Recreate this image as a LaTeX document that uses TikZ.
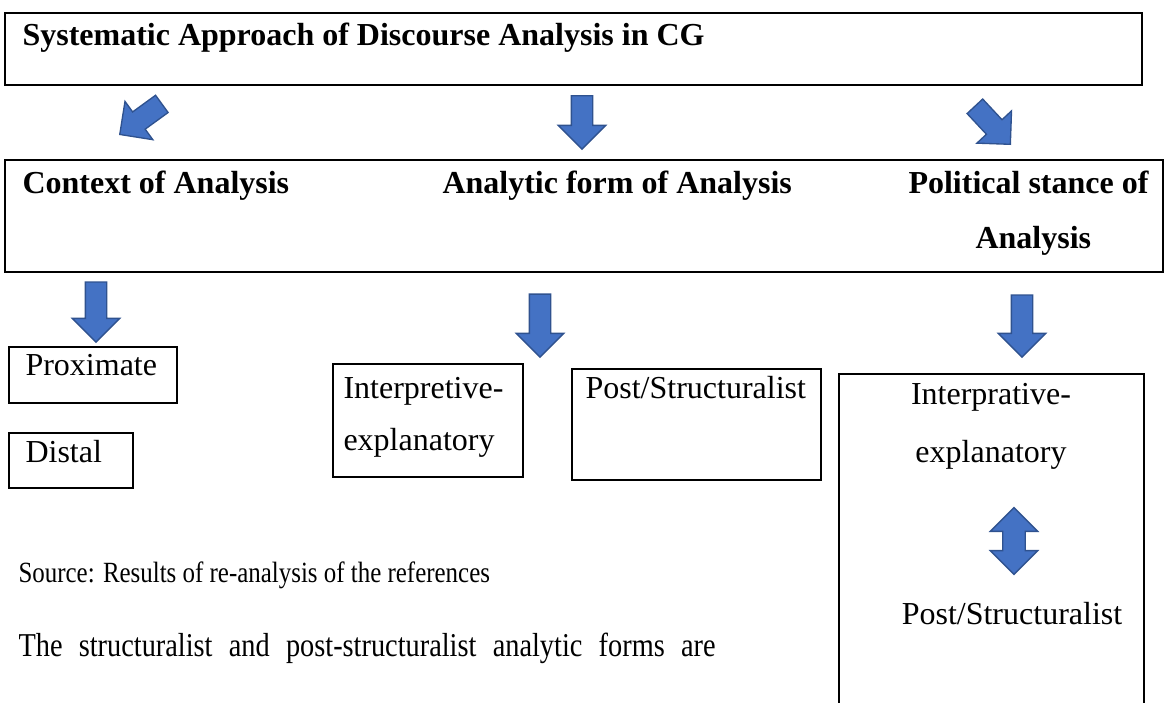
\documentclass[tikz,border=0pt]{standalone}
\usepackage{fontspec}
\setmainfont{Liberation Serif}
\newfontfamily\condfont[FakeStretch=0.85]{Liberation Serif}
\usetikzlibrary{positioning, fit, shapes.arrows}
\definecolor{arrowfill}{HTML}{4472C4}
\definecolor{arrowline}{HTML}{2F528F}

\begin{document}
\begin{tikzpicture}[
  x=0.375pt, y=-0.375pt,
  box/.style={draw, line width=0.75pt, inner sep=0pt},
  bigbox/.style={box, line width=1pt},
  txt/.style={inner sep=0pt, anchor=base west, font=\fontsize{12}{14}\selectfont},
  headtxt/.style={txt, font=\fontsize{12}{14}\selectfont\bfseries},
  midtxt/.style={txt, anchor=base},
  blockarrow/.style={single arrow, draw=arrowline, fill=arrowfill, line width=0.5pt,
    inner xsep=0pt, inner ysep=3.75pt, single arrow head extend=4.875pt,
    single arrow head indent=0pt, minimum height=22pt, anchor=tip},
  twoarrow/.style={double arrow, draw=arrowline, fill=arrowfill, line width=0.5pt,
    inner xsep=0pt, inner ysep=3.95pt, double arrow head extend=4.7pt,
    double arrow head indent=0pt, minimum height=25pt}
]
\useasboundingbox (0,0) rectangle (1166,702);
\clip (0,0) rectangle (1166,702);

% Top level
\node[bigbox, fit={(5,13) (1142,85)}] (sysbox) {};
\node[headtxt] (systxt) at (22,45) {Systematic Approach of Discourse Analysis in CG};

% Arrows to the three dimensions
\node[blockarrow, rotate=216, minimum height=19.5pt] (arrA) at (119,135) {};
\node[blockarrow, rotate=-90, minimum height=20pt] (arrB) at (582,150) {};
\node[blockarrow, rotate=-47, minimum height=19.5pt] (arrC) at (1011,145) {};

% Dimensions
\node[bigbox, fit={(5,160) (1163,272)}] (dimbox) {};
\node[headtxt] (ctxtxt) at (22,193) {Context of Analysis};
\node[headtxt] (formtxt) at (442,193) {Analytic form of Analysis};
\node[headtxt] (poltxt) at (908,193) {Political stance of};
\node[headtxt] (poltxtb) at (975,248) {Analysis};

% Arrows to the sub boxes
\node[blockarrow, rotate=-90, minimum height=22.5pt] (arrD) at (96,343) {};
\node[blockarrow, rotate=-90, minimum height=23.6pt] (arrE) at (540,358) {};
\node[blockarrow, rotate=-90, minimum height=23.25pt] (arrF) at (1022,358) {};

% Context of analysis
\node[box, fit={(9,347) (177,403)}] (proxbox) {};
\node[txt] (proxtxt) at (25,375) {Proximate};
\node[box, fit={(9,433) (133,488)}] (distbox) {};
\node[txt] (disttxt) at (25,462) {Distal};

% Analytic form
\node[box, fit={(333,364) (523,477)}] (interbox) {};
\node[txt] (intertxt) at (343,398) {Interpretive-};
\node[txt] (intertxtb) at (343,450) {explanatory};
\node[box, fit={(572,369) (821,480)}] (postbox) {};
\node[txt] (posttxt) at (585,398) {Post/Structuralist};

% Political stance
\node[box, fit={(839,374) (1144,720)}] (stancebox) {};
\node[midtxt] (stancetxt) at (991,404) {Interprative-};
\node[midtxt] (stancetxtb) at (991,462) {explanatory};
\node[twoarrow, rotate=90] (arrG) at (1014,541) {};
\node[midtxt] (stancepost) at (1012,624) {Post/Structuralist};

% Source and running text
\node[txt, font=\fontsize{11}{13}\condfont] (source) at (18,582) {Source: Results of re-analysis of the references};
\node[txt, font=\fontsize{12.5}{14}\condfont] (bodytxt) at (18,656) {\makebox[261.4pt][s]{The structuralist and post-structuralist analytic forms are}};
\end{tikzpicture}
\end{document}
